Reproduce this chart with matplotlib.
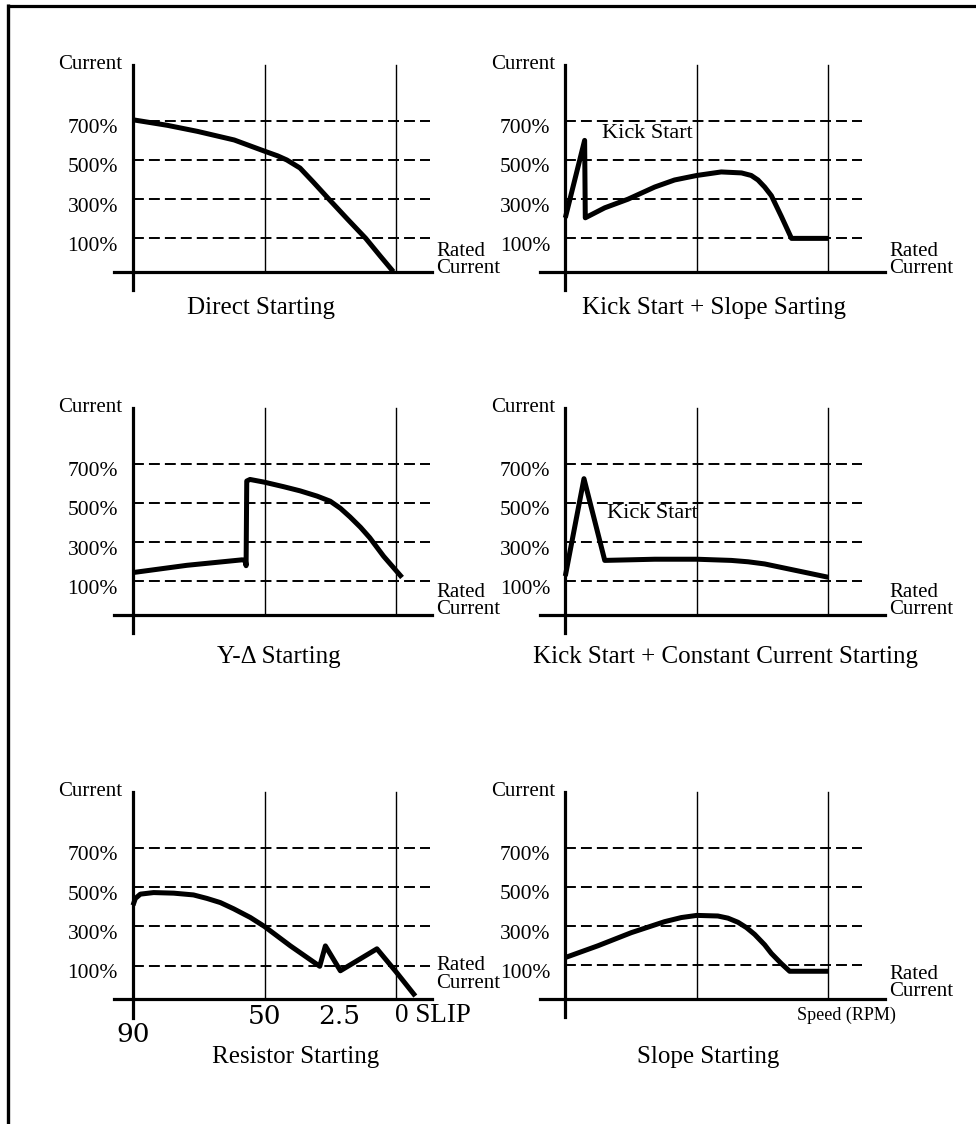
import matplotlib
matplotlib.use("Agg")
import matplotlib.pyplot as plt
from matplotlib.lines import Line2D

#------------------------------- CHART DATA -----------------------------------

# x is in grid units (y-axis = 0, grid lines at 1 and 2), y is current in %
levels = [700, 500, 300, 100]
level_labels = ["700%", "500%", "300%", "100%"]
BASE = -70   # where the drawn x-axis sits

direct_x = [0, 0.26, 0.49, 0.77, 1.0, 1.1, 1.17, 1.27, 1.37, 1.49, 1.63,
            1.77, 1.88, 1.98]
direct_y = [705, 677, 646, 602, 545, 521, 500, 459, 388, 300, 199, 100, 10,
            BASE]

kick_slope_x = [0, 0.147, 0.152, 0.3, 0.477, 0.68, 0.831, 1.0, 1.186, 1.34,
                1.414, 1.465, 1.516, 1.567, 1.643, 1.72, 2.0]
kick_slope_y = [205, 600, 205, 256, 300, 362, 398, 421, 439, 434, 421, 398,
                362, 318, 212, 100, 100]

ydelta_x = [0, 0.41, 0.83, 0.855, 0.86, 0.865, 0.89, 1.0, 1.146, 1.27, 1.4,
            1.5, 1.577, 1.65, 1.73, 1.8, 1.906, 2.046]
ydelta_y = [145, 182, 210, 205, 180, 612, 620, 606, 583, 562, 535, 509, 473,
            429, 376, 323, 228, 120]

kick_const_x = [0, 0.142, 0.3, 0.68, 1.0, 1.262, 1.39, 1.516, 1.744, 2.0]
kick_const_y = [127, 624, 207, 213, 213, 207, 200, 189, 157, 121]

resistor_x = [0, 0.018, 0.056, 0.157, 0.31, 0.46, 0.563, 0.664, 0.766, 0.892,
              1.0, 1.197, 1.42, 1.463, 1.577, 1.855, 2.0, 2.147]
resistor_y = [408, 443, 465, 473, 470, 461, 443, 422, 390, 346, 300, 201, 97,
              201, 74, 186, 69, -55]

slope_x = [0, 0.248, 0.502, 0.755, 0.882, 1.0, 1.16, 1.237, 1.313, 1.377,
           1.44, 1.516, 1.567, 1.643, 1.706, 2.0]
slope_y = [140, 200, 267, 323, 344, 355, 352, 341, 320, 293, 258, 205, 161,
           109, 70, 70]

titles = ["Direct Starting", "Kick Start + Slope Sarting",
          "Y-\u0394 Starting", "Kick Start + Constant Current Starting",
          "Resistor Starting", "Slope Starting"]

slip_ticks = [0, 1, 1.57, 2]
slip_labels = ["90", "50", "2.5", "0 SLIP"]

#------------------------------- LAYOUT ---------------------------------------

W, H = 976, 1124
PX_U = 131.5    # pixels per grid unit
PX_V = 0.196    # pixels per percent
SERIF = "Liberation Serif"

# origin pixel, x-axis right end, title x / y, rated label lift (px)
panels = [
    dict(o=(133, 271.7), xr=2.27, tx=0.97, ty=-256, lift=20,
         x=direct_x, y=direct_y),
    dict(o=(565.3, 271.7), xr=2.43, tx=1.13, ty=-256, lift=20,
         x=kick_slope_x, y=kick_slope_y, kick=(0.28, 635)),
    dict(o=(133, 614.7), xr=2.27, tx=1.11, ty=-285, lift=22,
         x=ydelta_x, y=ydelta_y),
    dict(o=(565.3, 614.7), xr=2.43, tx=1.22, ty=-285, lift=22,
         x=kick_const_x, y=kick_const_y, kick=(0.32, 446)),
    dict(o=(133, 999), xr=2.27, tx=1.24, ty=-365, lift=33,
         x=resistor_x, y=resistor_y, slip=True),
    dict(o=(565.3, 998.7), xr=2.43, tx=1.09, ty=-365, lift=24,
         x=slope_x, y=slope_y, rpm=True),
]

fig = plt.figure(figsize=(W / 100, H / 100), dpi=100)
fig.patch.set_facecolor("white")

#outer frame: top and left edge only
fig.add_artist(Line2D([7 / W, 1], [1 - 5.5 / H, 1 - 5.5 / H], color="black",
                      lw=2.3, solid_capstyle="butt"))
fig.add_artist(Line2D([8.3 / W, 8.3 / W], [0, 1 - 4 / H], color="black",
                      lw=2.4, solid_capstyle="butt"))

X0, X1, Y0, Y1 = -0.7, 2.8, -450, 1060
Y_TOP = BASE + 207 / PX_V
Y_BOT = BASE - 18.5 / PX_V

for i, p in enumerate(panels):
    ox, oy = p["o"]
    left = ox + X0 * PX_U
    right = ox + X1 * PX_U
    top = oy - (Y1 - BASE) * PX_V
    bottom = oy + (BASE - Y0) * PX_V
    ax = fig.add_axes([left / W, 1 - bottom / H, (right - left) / W,
                       (bottom - top) / H])
    ax.set_xlim(X0, X1)
    ax.set_ylim(Y0, Y1)
    ax.axis("off")

    #axes, grid and dashed levels
    ax.plot([0, 0], [Y_BOT, Y_TOP], color="black", lw=2.3)
    ax.plot([-0.144 if p["xr"] < 2.3 else -0.19, p["xr"]], [BASE, BASE],
            color="black", lw=2.3)
    for gx in [1, 2]:
        ax.plot([gx, gx], [BASE, Y_TOP], color="black", lw=1.0)
    for lv, lab in zip(levels, level_labels):
        ax.plot([0, 2.26], [lv, lv], color="black", lw=1.4,
                ls=(0, (5.6, 2.6)))
        ax.text(-0.115, lv - 40, lab, ha="right", va="center",
                fontsize=15.5, family=SERIF)

    ax.text(-0.08, Y_TOP, "Current", ha="right", va="center",
            fontsize=15, family=SERIF)
    ax.text(p["xr"] + 0.035, BASE + p["lift"] / PX_V, "Rated",
            ha="left", va="center", fontsize=15, family=SERIF)
    ax.text(p["xr"] + 0.035, BASE + (p["lift"] - 17) / PX_V, "Current",
            ha="left", va="center", fontsize=15, family=SERIF)

    #the starting curve
    ax.plot(p["x"], p["y"], color="black", lw=3.6, solid_joinstyle="round",
            solid_capstyle="butt")

    ax.text(p["tx"], p["ty"], titles[i], ha="center", va="center",
            fontsize=18, family=SERIF)

    if "kick" in p:
        ax.text(p["kick"][0], p["kick"][1], "Kick Start", ha="left",
                va="center", fontsize=16, family=SERIF)

    if p.get("slip"):
        for sx, sl in zip(slip_ticks, slip_labels):
            if sl == "90":
                ax.text(sx, BASE - 36 / PX_V, sl, ha="center", va="center",
                        fontsize=19, family="DejaVu Serif")
            elif sl.startswith("0"):
                ax.text(sx - 0.01, BASE - 17 / PX_V, sl, ha="left",
                        va="center", fontsize=19.5, family=SERIF)
            else:
                ax.text(sx, BASE - 17 / PX_V, sl, ha="center", va="center",
                        fontsize=19, family="DejaVu Serif")

    if p.get("rpm"):
        ax.text(1.76, BASE - 17 / PX_V, "Speed (RPM)", ha="left",
                va="center", fontsize=13, family=SERIF)

fig.savefig("out.png", dpi=100, facecolor="white")
